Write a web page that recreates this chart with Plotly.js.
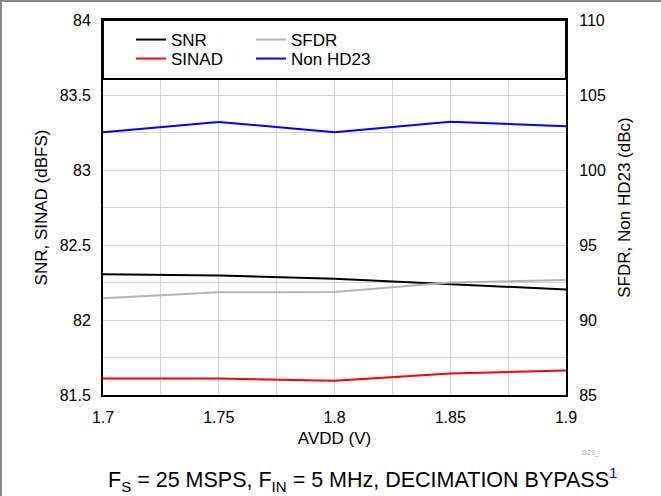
<!DOCTYPE html>
<html>
<head>
<meta charset="utf-8">
<script src="https://cdn.plot.ly/plotly-3.0.1.min.js"></script>
<style>
html,body{margin:0;padding:0;background:#fff;}
#chart{width:661px;height:496px;}
</style>
</head>
<body>
<div id="chart"></div>
<script>
const avdd = [1.7, 1.75, 1.8, 1.85, 1.9];
const snr = [82.305, 82.297, 82.275, 82.238, 82.203];
const sinad = [81.61, 81.61, 81.595, 81.643, 81.663];
const sfdr = [91.45, 91.85, 91.87, 92.5, 92.67];
const nonHD23 = [102.52, 103.2, 102.52, 103.22, 102.92];

const FONT = 'Liberation Sans, Arial, sans-serif';

const traces = [
  {x: avdd, y: snr, name: 'SNR', mode: 'lines', line: {color: '#000000', width: 2}, legend: 'legend'},
  {x: avdd, y: sinad, name: 'SINAD', mode: 'lines', line: {color: '#ff0000', width: 2}, legend: 'legend2'},
  {x: avdd, y: sfdr, name: 'SFDR', mode: 'lines', yaxis: 'y2', line: {color: '#b4b4b4', width: 2}, legend: 'legend3'},
  {x: avdd, y: nonHD23, name: 'Non HD23', mode: 'lines', yaxis: 'y2', line: {color: '#0000ff', width: 2}, legend: 'legend4'}
];

const W = 463, H = 375, L = 103, T = 20;
function px(x){ return (x - L) / W; }
function py(y){ return (T + H - y) / H; }

function leg(xp, yp){
  return {x: px(xp), y: py(yp), xanchor: 'left', yanchor: 'middle',
    bgcolor: 'rgba(0,0,0,0)', borderwidth: 0, font: {size: 17}, itemwidth: 30};
}

const layout = {
  width: 661, height: 496,
  margin: {l: L, r: 661 - L - W, t: T, b: 496 - T - H},
  paper_bgcolor: '#fff', plot_bgcolor: '#fff',
  font: {family: FONT, size: 16, color: '#000'},
  showlegend: true,
  xaxis: {
    range: [1.7, 1.9], dtick: 0.05, tick0: 1.7,
    showgrid: true, gridcolor: '#d3d3d3', gridwidth: 1,
    minor: {dtick: 0.025, showgrid: true, gridcolor: '#d3d3d3', gridwidth: 1},
    showline: true, linecolor: '#000', linewidth: 2, mirror: true,
    ticks: '', ticklabelstandoff: 7, zeroline: false,
    tickfont: {size: 16},
    title: {text: 'AVDD (V)', font: {size: 17}, standoff: 7}
  },
  yaxis: {
    range: [81.5, 84], dtick: 0.5, tick0: 81.5,
    showgrid: true, gridcolor: '#d3d3d3', gridwidth: 1,
    minor: {dtick: 0.25, showgrid: true, gridcolor: '#d3d3d3', gridwidth: 1},
    showline: true, linecolor: '#000', linewidth: 2, mirror: true,
    ticks: '', ticklabelstandoff: 7, zeroline: false,
    tickfont: {size: 16},
    title: {text: 'SNR, SINAD (dBFS)', font: {size: 17}, standoff: 8}
  },
  yaxis2: {
    range: [85, 110], dtick: 5, tick0: 85,
    overlaying: 'y', side: 'right',
    showgrid: false, zeroline: false,
    showline: true, linecolor: '#000', linewidth: 2,
    ticks: '', ticklabelstandoff: 8,
    tickfont: {size: 16},
    title: {text: 'SFDR, Non HD23 (dBc)', font: {size: 17}, standoff: 13}
  },
  legend: leg(131, 40),
  legend2: leg(131, 59),
  legend3: leg(251, 40),
  legend4: leg(251, 59),
  shapes: [
    {type: 'rect', xref: 'paper', yref: 'paper', x0: 0, x1: 1, y0: py(79), y1: 1,
     fillcolor: '#fff', line: {color: '#000', width: 2}, layer: 'above'},
    {type: 'line', xref: 'paper', yref: 'paper', x0: px(0), x1: px(661), y0: py(1), y1: py(1),
     line: {color: '#888', width: 2}},
    {type: 'line', xref: 'paper', yref: 'paper', x0: px(1), x1: px(1), y0: py(0), y1: py(496),
     line: {color: '#888', width: 2}}
  ],
  annotations: [
    {xref: 'paper', yref: 'paper', x: px(590), y: py(453), text: 'D29_', showarrow: false,
     font: {size: 7, color: '#aaaaaa'}, xanchor: 'center', yanchor: 'middle'},
    {xref: 'paper', yref: 'paper', x: px(362), y: py(479),
     text: 'F<sub>S</sub> = 25 MSPS, F<sub>IN</sub> = 5 MHz, DECIMATION BYPASS<sup><span style="color:#0000ff">1</span></sup>',
     showarrow: false, font: {size: 21.5, color: '#000'}, xanchor: 'center', yanchor: 'middle'}
  ]
};

Plotly.newPlot('chart', traces, layout, {displayModeBar: false, staticPlot: true});
</script>
</body>
</html>
